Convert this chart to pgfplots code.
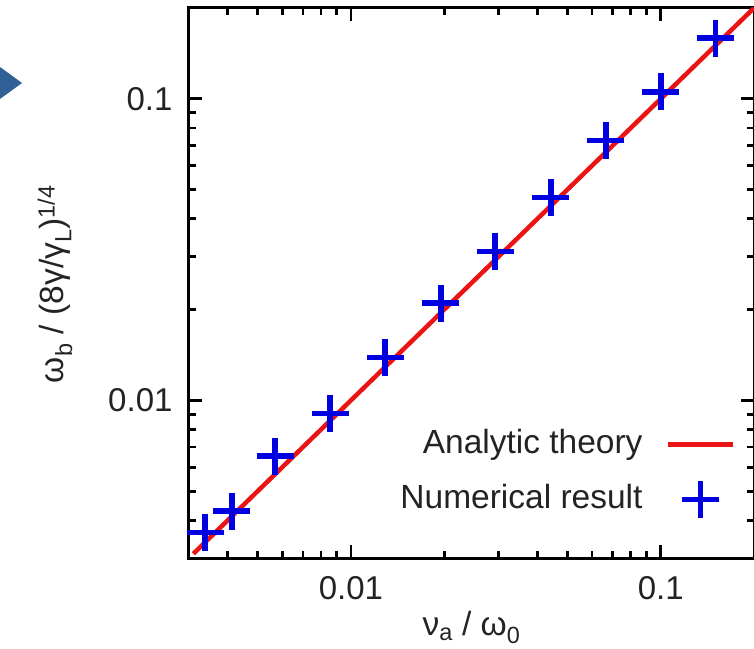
\documentclass[border=0pt]{standalone}
\usepackage{pgfplots}
\pgfplotsset{compat=1.18}
\usepackage{fontspec}
\setmainfont{Liberation Sans}
\definecolor{plred}{RGB}{235,20,20}
\definecolor{plblue}{RGB}{0,0,225}
\definecolor{tri}{RGB}{47,96,150}
\definecolor{txt}{RGB}{35,35,35}
\pgfplotsset{
  mylineleg/.style={legend image code/.code={\draw[##1] (0bp,0bp) -- (65bp,0bp);}},
  mymarkleg/.style={legend image code/.code={\draw[mark repeat=2,mark phase=2,##1] plot coordinates {(0bp,0bp) (32.5bp,0bp) (65bp,0bp)};}},
}
\begin{document}
\begin{tikzpicture}[x=1bp,y=1bp]
\begin{axis}[
  at={(0,0)}, anchor=south west,
  scale only axis, width=565bp, height=550bp,
  xmode=log, ymode=log,
  xmin=0.003, xmax=0.2, ymin=0.003, ymax=0.2,
  xtick={0.01,0.1}, xticklabels={0.01,0.1},
  ytick={0.01,0.1}, yticklabels={0.01,0.1},
  minor xtick={0.004,0.005,0.006,0.007,0.008,0.009,0.02,0.03,0.04,0.05,0.06,0.07,0.08,0.09},
  minor ytick={0.004,0.005,0.006,0.007,0.008,0.009,0.02,0.03,0.04,0.05,0.06,0.07,0.08,0.09},
  tick align=inside,
  major tick length=13bp, minor tick length=7bp,
  every tick/.style={black, line width=2.8bp},
  axis line style={line width=3bp},
  tick label style={font=\fontsize{33bp}{39bp}\selectfont, text=txt},
  xticklabel style={yshift=-15bp},
  yticklabel style={xshift=-13bp},
  xlabel={ν\textsubscript{a} / ω\textsubscript{0}},
  ylabel={ω\textsubscript{b} / (8γ/γ\textsubscript{L})\textsuperscript{1/4}},
  label style={font=\fontsize{33.5bp}{39bp}\selectfont, text=txt},
  xlabel style={at={(axis description cs:0.5,-0.127)}, anchor=center},
  ylabel style={at={(axis description cs:-0.237,0.498)}, anchor=center},
  legend cell align=right,
  legend plot pos=right,
  legend style={draw=none, fill=none, at={(rel axis cs:0.9664,0.2345)}, anchor=north east,
    inner sep=0pt, outer sep=0pt, font=\fontsize{33.5bp}{39bp}\selectfont, text=txt,
    row sep=21bp, column sep=23bp,
    nodes={inner sep=0pt, text height=24bp, text depth=7bp}},
]
\addplot[plred, line width=4.5bp, mylineleg]
  coordinates {(0.0031,0.0031) (0.2,0.2)};
\addlegendentry{Analytic theory}
\addplot[plblue, only marks, mark=+, mark size=18.5bp, line width=5.5bp, mymarkleg]
  coordinates {
  (0.00338,0.00365)
  (0.00413,0.00429)
  (0.00569,0.00653)
  (0.00856,0.00906)
  (0.01288,0.01387)
  (0.0195,0.0210)
  (0.0292,0.0311)
  (0.0442,0.0470)
  (0.0665,0.0726)
  (0.1,0.1054)
  (0.150,0.159)
  };
\addlegendentry{Numerical result}
\end{axis}
\fill[tri] (-189,491) -- (-167,475) -- (-189,459) -- cycle;
\pgfresetboundingbox
\path[use as bounding box] (-189,-91) rectangle (565,558);
\end{tikzpicture}
\end{document}
